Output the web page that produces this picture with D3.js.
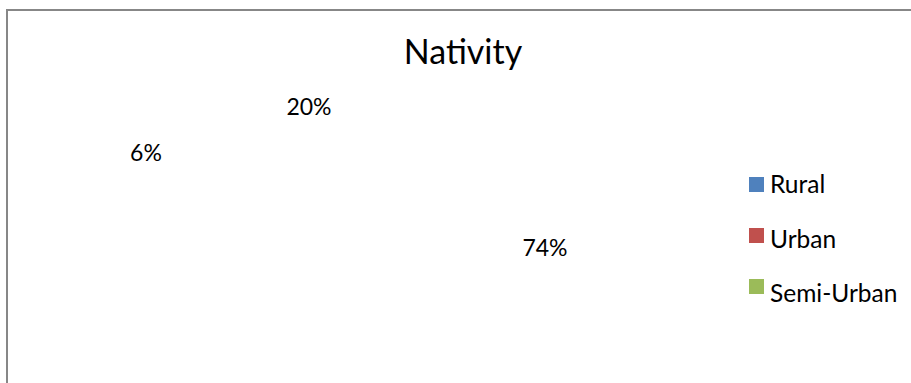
<!DOCTYPE html>
<html>
<head>
<meta charset="utf-8">
<script src="https://cdn.jsdelivr.net/npm/d3@7/dist/d3.min.js"></script>
<style>
  html, body { margin: 0; padding: 0; background: #fff; }
  svg { display: block; }
  text { font-family: Lato, "Open Sans", sans-serif; fill: #000; }
</style>
</head>
<body>
<div id="chart"></div>
<script>
// Nativity of respondents
const categories = ["Rural", "Urban", "Semi-Urban"];
const shares = [74, 20, 6];
const colors = ["#4f81bd", "#c0504d", "#9bbb59"];
const title = "Nativity";

const width = 911, height = 383;

// Where each slice's percentage label sits (chart layout)
const labelAnchors = [[545, 256], [309, 115], [146, 161]];

const svg = d3.select("#chart").append("svg")
  .attr("width", width)
  .attr("height", height);

// chart frame (runs past the right and bottom edges)
svg.append("rect")
  .attr("x", 7).attr("y", 10)
  .attr("width", 940).attr("height", 420)
  .attr("fill", "#fff")
  .attr("stroke", "#878787")
  .attr("stroke-width", 2);

svg.append("text")
  .attr("x", 463).attr("y", 64)
  .attr("text-anchor", "middle")
  .style("font-size", "34px")
  .text(title);

// pie slices: no fill, only the labels are shown
const pie = d3.pie().sort(null).value(d => d.v);
const arcs = pie(categories.map((c, i) => ({ c, v: shares[i] })));
const arc = d3.arc().innerRadius(0).outerRadius(120);

const g = svg.append("g").attr("transform", "translate(345,215)");
g.selectAll("path.slice")
  .data(arcs)
  .join("path")
  .attr("class", "slice")
  .attr("d", arc)
  .attr("fill", "none")
  .attr("stroke", "none");

const fmt = d3.format(".0%");
const total = d3.sum(shares);
svg.selectAll("text.pct")
  .data(arcs)
  .join("text")
  .attr("class", "pct")
  .attr("x", (d, i) => labelAnchors[i][0])
  .attr("y", (d, i) => labelAnchors[i][1])
  .attr("text-anchor", "middle")
  .style("font-size", "23px")
  .text(d => fmt(d.data.v / total));

// legend
const legend = svg.append("g");
const rows = legend.selectAll("g")
  .data(categories)
  .join("g");
rows.append("rect")
  .attr("x", 749)
  .attr("y", (d, i) => 177 + i * 51)
  .attr("width", 15).attr("height", 15)
  .attr("fill", (d, i) => colors[i]);
rows.append("text")
  .attr("x", 770)
  .attr("y", (d, i) => 193 + i * 54.5)
  .style("font-size", "24.5px")
  .text(d => d);
</script>
</body>
</html>
